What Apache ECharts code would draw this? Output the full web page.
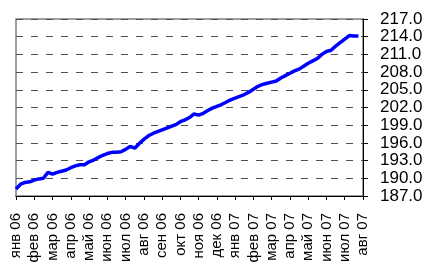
<!DOCTYPE html>
<html>
<head>
<meta charset="utf-8">
<script src="https://cdn.jsdelivr.net/npm/echarts@6/dist/echarts.min.js"></script>
<style>
  html, body { margin: 0; padding: 0; background: #fff; }
  #chart { width: 430px; height: 269px; }
</style>
</head>
<body>
<div id="chart"></div>
<script>
    // month labels on the x axis, one every 4 points
    const monthLabels = ['янв 06', 'фев 06', 'мар 06', 'апр 06', 'май 06', 'июн 06', 'июл 06',
        'авг 06', 'сен 06', 'окт 06', 'ноя 06', 'дек 06', 'янв 07', 'фев 07', 'мар 07',
        'апр 07', 'май 07', 'июн 07', 'июл 07', 'авг 07'];
    const pointsPerMonth = 4;

    // index values (roughly weekly)
    const values = [
        188.2, 189.0, 189.3, 189.4, 189.7, 189.9, 190.0, 191.0, 190.7, 191.0,
        191.2, 191.4, 191.8, 192.1, 192.3, 192.3, 192.8, 193.1, 193.5, 193.9,
        194.2, 194.4, 194.4, 194.5, 194.9, 195.4, 195.1, 195.9, 196.6, 197.2,
        197.6, 197.9, 198.2, 198.5, 198.8, 199.1, 199.6, 199.9, 200.3, 200.9,
        200.7, 201.0, 201.5, 201.9, 202.2, 202.5, 202.9, 203.3, 203.6, 203.9,
        204.2, 204.6, 205.1, 205.6, 205.9, 206.1, 206.3, 206.5, 207.0, 207.4,
        207.8, 208.2, 208.5, 209.0, 209.5, 209.9, 210.3, 211.0, 211.5, 211.7,
        212.4, 213.0, 213.6, 214.2, 214.1, 214.1
    ];

    // y axis range
    const yMin = 187, yMax = 217, yStep = 3;

    // build the category list: label on each month start, empty in between
    const categories = [];
    for (let i = 0; i <= (monthLabels.length - 1) * pointsPerMonth; i++) {
        categories.push(i % pointsPerMonth === 0 ? monthLabels[i / pointsPerMonth] : '');
    }

    const myChart = echarts.init(document.getElementById('chart'));
    const option = {
        animation: false,
        textStyle: { fontFamily: 'Liberation Sans, Arial, sans-serif' },
        grid: {
            left: 16, right: 67, top: 19, bottom: 73,
            show: true,
            borderColor: '#808080',
            borderWidth: 1.5
        },
        xAxis: {
            type: 'category',
            data: categories,
            boundaryGap: false,
            axisLine: { lineStyle: { color: '#000', width: 1 } },
            axisTick: { interval: pointsPerMonth - 1, length: 4, lineStyle: { color: '#000' } },
            axisLabel: {
                interval: pointsPerMonth - 1,
                rotate: 90,
                margin: 17,
                color: '#000',
                fontSize: 15
            },
            splitLine: { show: false }
        },
        yAxis: {
            type: 'value',
            position: 'right',
            min: yMin,
            max: yMax,
            interval: yStep,
            axisLine: { show: true, lineStyle: { color: '#000', width: 1 } },
            axisTick: { show: true, length: 5, lineStyle: { color: '#000' } },
            axisLabel: {
                margin: 17,
                color: '#000',
                fontSize: 17,
                formatter: function (v) { return v.toFixed(1); }
            },
            splitLine: {
                show: true,
                lineStyle: { color: '#505050', type: [7, 8], width: 1 }
            }
        },
        series: [{
            type: 'line',
            data: values,
            showSymbol: false,
            lineStyle: { color: '#0000ff', width: 3.5 },
            itemStyle: { color: '#0000ff' }
        }]
    };
    option && myChart.setOption(option);
</script>
</body>
</html>
